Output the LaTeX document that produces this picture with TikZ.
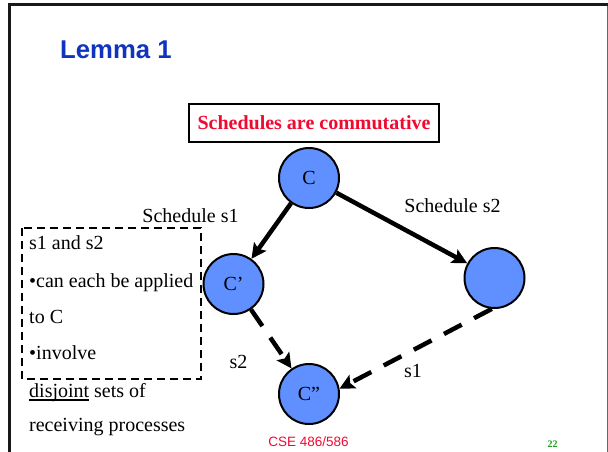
\documentclass[tikz,border=0pt]{standalone}
\usepackage{fontspec}
\setmainfont{Liberation Serif}
\setsansfont{Liberation Sans}
\usetikzlibrary{arrows.meta}
\definecolor{nodeblue}{RGB}{96,144,255}
\definecolor{titleblue}{RGB}{16,52,190}
\definecolor{slidered}{RGB}{240,10,50}
\definecolor{numgreen}{RGB}{30,160,30}
\newcommand{\thickul}[1]{\setbox0\hbox{#1}\rlap{\vrule width\wd0 height -2pt depth 4pt}\box0{}}
\begin{document}
\begin{tikzpicture}[x=1pt,y=-1pt,
    state/.style={circle,draw,line width=2pt,fill=nodeblue,minimum size=60pt,inner sep=0pt,font=\fontsize{20}{24}\selectfont},
    move/.style={line width=4.5pt,-{Stealth[length=15pt,width=15pt,inset=3pt]}},
    lazy/.style={move,dash pattern=on 20pt off 14pt},
    lbl/.style={font=\fontsize{20}{24}\selectfont,inner sep=0pt,anchor=base},
    line/.style={lbl,anchor=base west}]
            \useasboundingbox (0,0) rectangle (608,451);
            \draw[black!60,line width=1pt] (607,4.5) -- (607,470);
            \draw[black!90,line width=3pt] (9,470) -- (9,4.5) -- (607.5,4.5);
            \node[anchor=base west,inner sep=0pt,text=titleblue,font=\sffamily\bfseries\fontsize{25.7}{30}\selectfont] (title) at (60,58) {Lemma 1};
            \node[draw,line width=2pt,minimum width=250pt,minimum height=38pt,text=slidered,font=\bfseries\fontsize{20}{24}\selectfont] (claim) at (314,123) {Schedules are commutative};
            \node[state] (c) at (309,178) {C};
            \node[state] (c1) at (233.5,284) {C'};
            \node[state] (c2) at (494.5,278) {};
            \node[state] (c12) at (309,394) {C''};
            \draw[move] (c) -- (c1);
            \draw[move] (c) -- (c2);
            \draw[lazy] (c1) -- (c12);
            \draw[lazy] (c2.265) -- (c12.10);
            \node[lbl] (sched1) at (190.5,222) {Schedule s1};
            \node[lbl] (sched2) at (452.5,212) {Schedule s2};
            \node[lbl] (then2) at (238.5,368) {s2};
            \node[lbl] (then1) at (413,377) {s1};
            \draw[line width=2pt,dash pattern=on 8pt off 5pt] (22,228) rectangle (201,379);
            \node[line] (l1) at (29,249) {s1 and s2};
            \node[line] (l2) at (29,287) {\textbullet can each be applied};
            \node[line] (l3) at (29,323) {to C};
            \node[line] (l4) at (29,359) {\textbullet involve};
            \node[line] (l5) at (29,397) {\thickul{disjoint} sets of};
            \node[line] (l6) at (29,431) {receiving processes};
            \node[anchor=base,inner sep=0pt,text=slidered,font=\sffamily\fontsize{13.5}{16}\selectfont] (course) at (308.5,446) {CSE 486/586};
            \node[anchor=base,inner sep=0pt,text=numgreen,font=\bfseries\fontsize{10}{12}\selectfont] (page) at (552.5,447) {22};
        \end{tikzpicture}
\end{document}
